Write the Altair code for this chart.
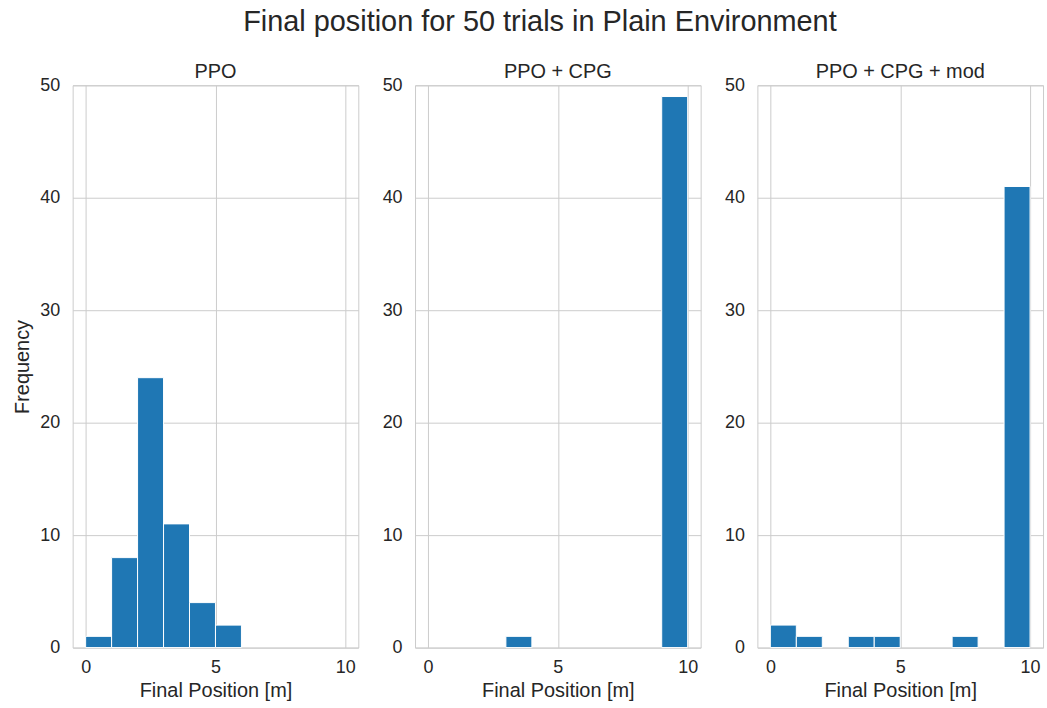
import altair as alt
import pandas as pd

# Histogram bins (edges 0..10, width 1) and counts for each controller
bin_starts = [0, 1, 2, 3, 4, 5, 6, 7, 8, 9]
bin_width = 1
panel_titles = ["PPO", "PPO + CPG", "PPO + CPG + mod"]
counts_ppo = [1, 8, 24, 11, 4, 2, 0, 0, 0, 0]
counts_cpg = [0, 0, 0, 1, 0, 0, 0, 0, 0, 49]
counts_cpg_mod = [2, 1, 0, 1, 1, 0, 0, 1, 0, 41]
x_ticks = [0, 5, 10]
y_ticks = [0, 10, 20, 30, 40, 50]

FONT = "Liberation Sans"
TEXT = "#262626"
GRID = "#cccccc"
BAR = "#1f77b4"

PANEL_W = 287
PANEL_H = 565


def panel(title, counts, show_ylabel):
    df = pd.DataFrame({
        "start": bin_starts,
        "end": [s + bin_width for s in bin_starts],
        "count": counts,
    })
    df = df[df["count"] > 0]
    return (
        alt.Chart(df)
        .mark_rect(color=BAR, stroke="white", strokeWidth=1)
        .encode(
            x=alt.X(
                "start:Q",
                scale=alt.Scale(domain=[-0.5, 10.5], nice=False, zero=False),
                axis=alt.Axis(values=x_ticks, title="Final Position [m]"),
            ),
            x2="end:Q",
            y=alt.Y(
                "count:Q",
                scale=alt.Scale(domain=[0, 50], nice=False),
                axis=alt.Axis(values=y_ticks,
                              title="Frequency" if show_ylabel else None),
            ),
            y2=alt.datum(0),
        )
        .properties(
            width=PANEL_W,
            height=PANEL_H,
            title=alt.TitleParams(title, fontSize=20, font=FONT,
                                  fontWeight="normal", color=TEXT, offset=-6),
        )
    )


chart = (
    alt.hconcat(
        panel(panel_titles[0], counts_ppo, True),
        panel(panel_titles[1], counts_cpg, False),
        panel(panel_titles[2], counts_cpg_mod, False),
        spacing=22,
    )
    .properties(
        title=alt.TitleParams(
            "Final position for 50 trials in Plain Environment",
            fontSize=29, font=FONT, fontWeight="normal", color=TEXT,
            anchor="middle", offset=25, dx=12,
        ),
        padding={"left": 12, "top": 6, "right": 3, "bottom": 3},
        background="white",
    )
    .configure_view(stroke=GRID, strokeWidth=1)
    .configure_axis(
        grid=True,
        gridColor=GRID,
        gridWidth=1,
        domain=False,
        ticks=False,
        labelFont=FONT,
        labelFontSize=18,
        labelColor=TEXT,
        titleFont=FONT,
        titleFontSize=20,
        titleFontWeight="normal",
        titleColor=TEXT,
    )
    .configure_axisX(labelPadding=11, titlePadding=4)
    .configure_axisY(labelPadding=13, titlePadding=7)
)

chart.save("out.html", embed_options={"renderer": "svg", "actions": False})
